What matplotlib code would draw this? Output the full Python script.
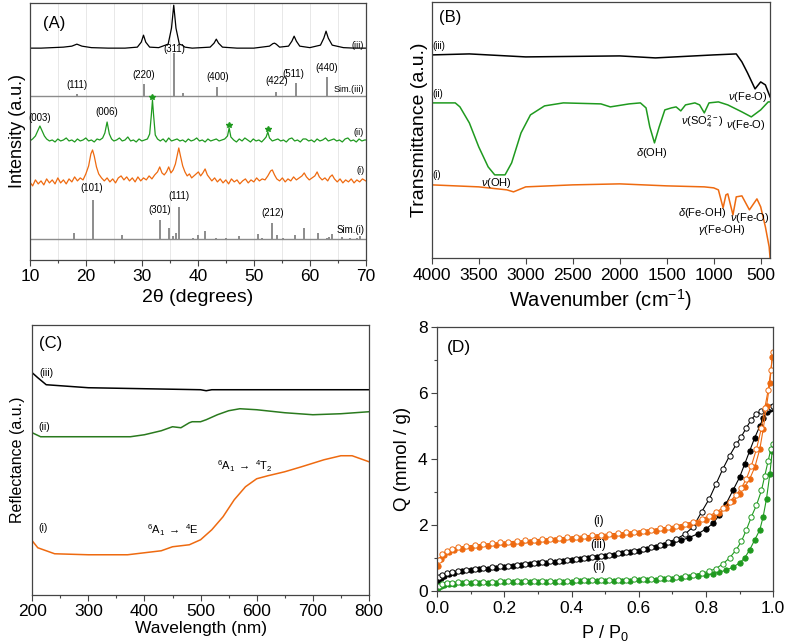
import matplotlib
matplotlib.use("Agg")
import matplotlib.pyplot as plt
from matplotlib.ticker import MultipleLocator

plt.rcParams['font.family'] = ['Liberation Sans', 'DejaVu Sans']
plt.rcParams['mathtext.fontset'] = 'custom'
plt.rcParams['mathtext.rm'] = 'Liberation Sans'
plt.rcParams['mathtext.it'] = 'Liberation Sans:italic'
plt.rcParams['axes.edgecolor'] = '#444444'
plt.rcParams['xtick.color'] = '#444444'
plt.rcParams['ytick.color'] = '#444444'
plt.rcParams['xtick.labelcolor'] = 'black'
plt.rcParams['ytick.labelcolor'] = 'black'

ORANGE = '#ee6a10'
GREEN = '#1f9a1f'
DKGREEN = '#2a7a1e'
GRAY = '#8c8c8c'

# ---------------- (A) XRD data (intensity in a.u.) ----------------
xrd_iii_x = [10, 12, 14, 16, 17.5, 18.4, 19.3, 21, 24, 27, 29.2, 29.9, 30.3, 30.7, 31.4, 33, 34.7,
             35.3, 35.7, 36.1, 36.7, 37.2, 37.7, 39, 42.2, 42.9, 43.3, 43.7, 44.4, 47, 50, 52.8,
             53.4, 53.7, 54.0, 54.6, 56.2, 56.8, 57.2, 57.6, 58.2, 60, 61.9, 62.5, 62.9, 63.3, 64,
             66, 68, 70]
xrd_iii_y = [212, 212, 212.5, 213, 214, 216, 214, 212.5, 212, 212, 213, 218, 225, 218, 213, 212.5,
             216, 232, 255, 232, 216, 215, 213, 212, 213, 217, 221, 217, 213, 212, 212, 214, 216.5,
             217, 216, 213, 214, 219, 224, 219, 214, 212.5, 215, 222, 229, 222, 215, 212.5, 212, 212]

sim_iii_base = 164
sim_iii_pos = [18.4, 30.4, 35.8, 37.4, 43.5, 53.9, 57.5, 63.1]
sim_iii_top = [166, 176, 207, 167, 173, 168, 177, 183]
sim_iii_hkl = ['(111)', '(220)', '(311)', '(400)', '(422)', '(511)', '(440)']
sim_iii_hkl_x = [18.5, 30.3, 35.8, 43.5, 54.0, 57.1, 63.0]
sim_iii_hkl_y = [170, 180, 206, 178, 174, 181, 187]

xrd_ii_x = [10, 10.5, 11.0, 11.4, 11.8, 12.2, 12.6, 13.0, 13.5, 14, 14.5, 15, 15.5, 16, 16.5, 17,
            17.5, 18, 18.5, 19, 19.5, 20, 20.5, 21, 21.5, 22, 22.5, 23.0, 23.4, 23.8, 24.2, 24.6,
            25, 25.5, 26, 26.5, 27, 27.5, 28, 28.5, 29, 29.5, 30, 30.5, 31.0, 31.4, 31.7, 31.9,
            32.1, 32.4, 32.8, 33.3, 33.8, 34.3, 34.8, 35.3, 35.8, 36.3, 36.8, 37.3, 37.8, 38.3,
            38.8, 39.3, 39.8, 40.3, 40.8, 41.3, 41.8, 42.3, 42.8, 43.3, 43.8, 44.3, 44.8, 45.3,
            45.6, 45.9, 46.4, 46.9, 47.4, 47.9, 48.4, 48.9, 49.4, 49.9, 50.4, 50.9, 51.4, 51.9,
            52.2, 52.5, 52.8, 53.3, 53.8, 54.3, 54.8, 55.3, 55.8, 56.3, 56.8, 57.3, 57.8, 58.3,
            58.8, 59.3, 59.8, 60.3, 60.8, 61.3, 61.8, 62.3, 62.8, 63.3, 63.8, 64.3, 64.8, 65.3,
            65.8, 66.3, 66.8, 67.3, 67.8, 68.3, 68.8, 69.3, 69.8, 70]
xrd_ii_y = [119, 121, 124, 129, 134, 129, 124, 121, 119, 120, 118, 121, 119, 120, 122, 119, 120,
            118, 121, 119, 120, 122, 119, 120, 118, 121, 120, 122, 127, 138, 126, 121, 119, 120,
            122, 119, 120, 123, 119, 120, 118, 121, 119, 120, 121, 126, 145, 160, 145, 125, 121,
            119, 121, 118, 122, 119, 120, 121, 119, 120, 118, 121, 119, 120, 122, 119, 120, 118,
            121, 119, 120, 121, 119, 120, 121, 124, 132, 123, 120, 118, 121, 119, 122, 120, 118,
            121, 119, 120, 118, 121, 123, 128, 122, 119, 120, 121, 119, 120, 118, 121, 122, 119,
            120, 118, 121, 121, 119, 120, 118, 121, 119, 120, 122, 119, 120, 121, 119, 120, 118,
            121, 122, 119, 120, 118, 121, 119, 120, 120]
star_x = [31.9, 45.6, 52.5]
star_y = [163, 135, 131]

xrd_i_x = [10, 10.5, 11, 11.5, 12, 12.5, 13, 13.5, 14, 14.5, 15, 15.5, 16, 16.5, 17, 17.5, 18,
           18.5, 19, 19.5, 20, 20.5, 20.9, 21.2, 21.5, 21.9, 22.3, 22.8, 23.3, 23.8, 24.3, 24.8,
           25.3, 25.8, 26.3, 26.8, 27.3, 27.8, 28.3, 28.8, 29.3, 29.8, 30.3, 30.8, 31.3, 31.8,
           32.3, 32.8, 33.2, 33.6, 34.0, 34.4, 34.8, 35.2, 35.6, 36.0, 36.3, 36.6, 36.9, 37.3,
           37.7, 38.1, 38.5, 38.9, 39.3, 39.7, 40.1, 40.5, 40.9, 41.3, 41.7, 42.1, 42.5, 43, 43.5,
           44, 44.5, 45, 45.5, 46, 46.5, 47, 47.5, 48, 48.5, 49, 49.5, 50, 50.5, 51, 51.5, 52,
           52.5, 53.0, 53.3, 53.7, 54.1, 54.6, 55.1, 55.6, 56.1, 56.6, 57.1, 57.6, 58.1, 58.6,
           59.0, 59.4, 59.9, 60.4, 60.9, 61.3, 61.7, 62.2, 62.7, 63.2, 63.6, 64.0, 64.4, 64.9,
           65.4, 65.9, 66.4, 66.9, 67.4, 67.9, 68.4, 68.9, 69.4, 70]
xrd_i_y = [78, 74, 80, 76, 79, 75, 81, 77, 80, 76, 82, 77, 80, 76, 81, 78, 83, 79, 82, 80, 86, 94,
           106, 110, 104, 93, 86, 82, 79, 82, 78, 81, 77, 82, 84, 80, 83, 79, 82, 78, 83, 79, 82,
           80, 84, 81, 85, 88, 93, 87, 85, 88, 93, 87, 90, 96, 104, 112, 104, 94, 88, 84, 86, 82,
           84, 86, 88, 84, 87, 91, 85, 82, 79, 82, 78, 81, 77, 80, 76, 81, 78, 80, 76, 79, 81,
           77, 80, 78, 82, 79, 81, 80, 84, 89, 90, 85, 81, 79, 82, 78, 81, 79, 83, 80, 82, 84,
           87, 83, 80, 82, 84, 88, 83, 80, 82, 79, 83, 85, 81, 78, 81, 77, 80, 78, 81, 77, 80,
           78, 81, 79]

sim_i_base = 21
sim_i_pos = [17.8, 21.3, 26.4, 33.2, 34.8, 35.6, 36.1, 36.7, 39.2, 40.0, 41.3, 43.3, 45.1, 47.3,
             50.7, 51.5, 53.3, 54.2, 55.3, 57.4, 59.0, 61.4, 63.0, 63.5, 64.0, 65.8, 67.2, 68.5, 69.0]
sim_i_top = [27, 60, 25, 40, 32, 24, 27, 53, 22, 25, 29, 22, 22, 24, 26, 22, 37, 25, 22, 25, 32,
             27, 22, 23, 26, 23, 22, 22, 24]
sim_i_hkl = ['(101)', '(301)', '(111)', '(212)']
sim_i_hkl_x = [21.0, 33.2, 36.7, 53.3]
sim_i_hkl_y = [67, 45, 59, 42]

# ---------------- (B) FTIR data (transmittance in a.u.) ----------------
ir_iii_x = [4000, 3600, 3000, 2000, 1620, 1000, 760, 700, 640, 560, 500, 450, 400]
ir_iii_y = [203, 204, 201, 202, 200, 203, 204, 196, 185, 169, 176, 173, 161]
ir_ii_x = [4000, 3750, 3700, 3600, 3500, 3400, 3330, 3220, 3150, 3050, 2950, 2800, 2600, 2200,
           2100, 1900, 1780, 1720, 1680, 1630, 1580, 1520, 1450, 1400, 1350, 1300, 1200, 1150,
           1100, 1050, 950, 850, 700, 600, 500, 420, 400]
ir_ii_y = [155, 155, 151, 135, 111, 91, 83, 83, 95, 125, 143, 152, 155, 154, 151, 154, 155, 150,
           131, 115, 131, 148, 150, 151, 147, 153, 155, 153, 145, 155, 156, 153, 146, 141, 148,
           156, 156]
ir_i_x = [4000, 3500, 3200, 3130, 3000, 2500, 2000, 1500, 1100, 1000, 950, 900, 870, 850, 795,
          760, 700, 620, 540, 500, 450, 410, 400]
ir_i_y = [73, 71, 68, 66, 71, 73, 74, 72, 71, 70, 68, 50, 63, 64, 43, 61, 62, 48, 59, 51, 31, 11, 0]

# ---------------- (C) UV-vis DRS data ----------------
uv_iii_x = [200, 210, 225, 250, 300, 400, 500, 510, 520, 600, 800]
uv_iii_y = [222, 217, 210, 209, 207, 206, 205, 204, 205, 205, 205]
uv_ii_x = [200, 215, 300, 375, 400, 430, 450, 465, 480, 485, 500, 510, 530, 550, 570, 600, 650,
           700, 750, 800]
uv_ii_y = [162, 158, 158, 158, 160, 164, 168, 167, 172, 173, 173, 175, 180, 184, 186, 185, 182,
           180, 181, 183]
uv_i_x = [200, 210, 240, 300, 370, 400, 430, 450, 480, 500, 520, 540, 560, 580, 600, 620, 650,
          680, 720, 750, 770, 800]
uv_i_y = [54, 47, 41, 40, 40, 42, 44, 48, 50, 55, 65, 78, 95, 108, 116, 119, 123, 128, 135, 139,
          139, 133]

# ---------------- (D) N2 isotherms ----------------
p_ads = [0.003, 0.01, 0.02, 0.035, 0.05, 0.075, 0.1, 0.125, 0.15, 0.175, 0.2, 0.225, 0.25, 0.275,
         0.3, 0.325, 0.35, 0.375, 0.4, 0.425, 0.45, 0.475, 0.5, 0.525, 0.55, 0.575, 0.6, 0.625,
         0.65, 0.675, 0.7, 0.725, 0.75, 0.775, 0.8, 0.82, 0.84, 0.86, 0.88, 0.9, 0.915, 0.93,
         0.945, 0.96, 0.97, 0.98, 0.99, 0.997]
p_des = [0.005, 0.015, 0.028, 0.045, 0.062, 0.087, 0.112, 0.137, 0.162, 0.187, 0.212, 0.237,
         0.262, 0.287, 0.312, 0.337, 0.362, 0.387, 0.412, 0.437, 0.462, 0.487, 0.512, 0.537,
         0.562, 0.587, 0.612, 0.637, 0.662, 0.687, 0.712, 0.737, 0.762, 0.787, 0.81, 0.83, 0.85,
         0.87, 0.89, 0.905, 0.92, 0.935, 0.95, 0.965, 0.975, 0.985, 0.993, 0.999]
q_i_ads = [0.75, 0.98, 1.1, 1.18, 1.23, 1.28, 1.31, 1.34, 1.36, 1.39, 1.41, 1.43, 1.45, 1.47,
           1.49, 1.51, 1.53, 1.55, 1.57, 1.59, 1.61, 1.63, 1.65, 1.67, 1.7, 1.72, 1.75, 1.78,
           1.81, 1.85, 1.89, 1.94, 2.0, 2.07, 2.16, 2.25, 2.37, 2.52, 2.72, 2.95, 3.15, 3.4,
           3.75, 4.3, 4.9, 5.6, 6.3, 7.1]
q_i_des = [0.95, 1.12, 1.22, 1.28, 1.32, 1.36, 1.39, 1.42, 1.44, 1.47, 1.49, 1.51, 1.53, 1.55,
           1.57, 1.59, 1.61, 1.63, 1.65, 1.67, 1.69, 1.71, 1.73, 1.75, 1.78, 1.8, 1.83, 1.86,
           1.9, 1.94, 1.98, 2.04, 2.1, 2.18, 2.28, 2.39, 2.52, 2.7, 2.92, 3.12, 3.4, 3.8, 4.3,
           4.95, 5.55, 6.1, 6.7, 7.25]
q_iii_ads = [0.3, 0.4, 0.46, 0.51, 0.55, 0.59, 0.62, 0.65, 0.68, 0.71, 0.74, 0.76, 0.79, 0.81,
             0.84, 0.86, 0.89, 0.91, 0.94, 0.97, 1.0, 1.03, 1.06, 1.1, 1.14, 1.18, 1.22, 1.27,
             1.32, 1.38, 1.45, 1.53, 1.62, 1.73, 1.88, 2.05, 2.3, 2.65, 3.05, 3.45, 3.85, 4.25,
             4.65, 5.0, 5.25, 5.42, 5.52, 5.55]
q_iii_des = [0.42, 0.48, 0.53, 0.57, 0.6, 0.63, 0.66, 0.69, 0.72, 0.75, 0.77, 0.8, 0.82, 0.85,
             0.87, 0.9, 0.92, 0.95, 0.98, 1.01, 1.04, 1.07, 1.1, 1.14, 1.18, 1.22, 1.27, 1.33,
             1.4, 1.48, 1.58, 1.72, 1.95, 2.4, 2.8, 3.25, 3.7, 4.1, 4.45, 4.68, 4.95, 5.2, 5.38,
             5.45, 5.5, 5.55, 5.58, 5.6]
q_ii_ads = [0.08, 0.15, 0.19, 0.21, 0.22, 0.23, 0.24, 0.24, 0.25, 0.25, 0.26, 0.26, 0.26, 0.27,
            0.27, 0.27, 0.28, 0.28, 0.28, 0.29, 0.29, 0.29, 0.3, 0.3, 0.31, 0.31, 0.32, 0.33,
            0.34, 0.35, 0.37, 0.39, 0.42, 0.45, 0.48, 0.52, 0.57, 0.63, 0.72, 0.85, 1.0, 1.25,
            1.55, 1.85, 2.25, 2.8, 3.55, 4.25]
q_ii_des = [0.15, 0.2, 0.23, 0.25, 0.26, 0.27, 0.27, 0.28, 0.28, 0.29, 0.29, 0.29, 0.3, 0.3, 0.3,
            0.31, 0.31, 0.31, 0.32, 0.32, 0.32, 0.33, 0.33, 0.34, 0.34, 0.35, 0.36, 0.37, 0.38,
            0.4, 0.42, 0.45, 0.49, 0.54, 0.6, 0.68, 0.82, 1.0, 1.25, 1.5, 1.85, 2.25, 2.6, 3.05,
            3.5, 3.95, 4.3, 4.45]

fig = plt.figure(figsize=(7.85, 6.43), dpi=100)
axA = fig.add_axes([0.038, 0.596, 0.428, 0.399])
axB = fig.add_axes([0.550, 0.599, 0.431, 0.398])
axC = fig.add_axes([0.041, 0.075, 0.429, 0.420])
axD = fig.add_axes([0.557, 0.081, 0.428, 0.410])

tick_fs = 12.5
small = 7

# (A)
for xg in range(15, 70, 5):
    axA.axvline(xg, color='#e4e4e4', lw=0.6, zorder=0)
axA.plot(xrd_iii_x, xrd_iii_y, color='black', lw=0.9)
axA.axhline(sim_iii_base, color=GRAY, lw=1.0)
axA.vlines(sim_iii_pos, sim_iii_base, sim_iii_top, color=GRAY, lw=1.4)
for lab, x, y in zip(sim_iii_hkl, sim_iii_hkl_x, sim_iii_hkl_y):
    axA.text(x, y, lab, fontsize=small, ha='center', va='bottom')
axA.plot(xrd_ii_x, xrd_ii_y, color=GREEN, lw=0.9)
axA.plot(star_x, star_y, '*', color=GREEN, ms=4)
axA.text(11.8, 137, '(003)', fontsize=small, ha='center', va='bottom')
axA.text(23.7, 143, '(006)', fontsize=small, ha='center', va='bottom')
axA.plot(xrd_i_x, xrd_i_y, color=ORANGE, lw=0.9)
axA.axhline(sim_i_base, color=GRAY, lw=1.0)
axA.vlines(sim_i_pos, sim_i_base, sim_i_top, color=GRAY, lw=1.4)
for lab, x, y in zip(sim_i_hkl, sim_i_hkl_x, sim_i_hkl_y):
    axA.text(x, y, lab, fontsize=small, ha='center', va='bottom')
axA.text(69.7, 215, '(iii)', fontsize=small - 0.5, ha='right', va='center')
axA.text(69.7, 166, 'Sim.(iii)', fontsize=small - 0.5, ha='right', va='bottom')
axA.text(69.7, 127, '(ii)', fontsize=small - 0.5, ha='right', va='center')
axA.text(69.7, 89, '(i)', fontsize=small - 0.5, ha='right', va='center')
axA.text(69.7, 30, 'Sim.(i)', fontsize=small, ha='right', va='center')
axA.text(0.04, 0.95, '(A)', transform=axA.transAxes, fontsize=12, va='top')
axA.set_xlim(10, 70)
axA.set_ylim(0, 257)
axA.set_yticks([])
axA.xaxis.set_major_locator(MultipleLocator(10))
axA.xaxis.set_minor_locator(MultipleLocator(5))
axA.set_xlabel('2θ (degrees)', fontsize=14, labelpad=3)
axA.set_ylabel('Intensity (a.u.)', fontsize=13, labelpad=3)

# (B)
lbl = small + 1
axB.plot(ir_iii_x, ir_iii_y, color='black', lw=1.1)
axB.plot(ir_ii_x, ir_ii_y, color=GREEN, lw=1.1)
axB.plot(ir_i_x, ir_i_y, color=ORANGE, lw=1.1)
axB.text(3990, 209, '(iii)', fontsize=small)
axB.text(3990, 161, '(ii)', fontsize=small)
axB.text(3990, 80, '(i)', fontsize=small)
axB.text(3308, 75, r'$\nu$(OH)', fontsize=lbl, ha='center', va='center')
axB.text(1657, 105, r'$\delta$(OH)', fontsize=lbl, ha='center', va='center')
axB.text(1120, 136, r'$\nu$(SO$_4^{2-}$)', fontsize=lbl, ha='center', va='center')
axB.text(660, 133, r'$\nu$(Fe-O)', fontsize=lbl, ha='center', va='center')
axB.text(635, 161, r'$\nu$(Fe-O)', fontsize=lbl, ha='center', va='center')
axB.text(1125, 45, r'$\delta$(Fe-OH)', fontsize=lbl, ha='center', va='center')
axB.text(912, 28, r'$\gamma$(Fe-OH)', fontsize=lbl, ha='center', va='center')
axB.text(613, 40, r'$\nu$(Fe-O)', fontsize=lbl, ha='center', va='center')
axB.text(0.02, 0.97, '(B)', transform=axB.transAxes, fontsize=12, va='top')
axB.set_xlim(4000, 400)
axB.set_ylim(0, 256)
axB.set_yticks([])
axB.set_xticks([4000, 3500, 3000, 2500, 2000, 1500, 1000, 500])
axB.set_xlabel('Wavenumber (cm$^{-1}$)', fontsize=14.5, labelpad=3)
axB.set_ylabel('Transmittance (a.u.)', fontsize=14, labelpad=3)

# (C)
axC.plot(uv_iii_x, uv_iii_y, color='black', lw=1.1)
axC.plot(uv_ii_x, uv_ii_y, color=DKGREEN, lw=1.1)
axC.plot(uv_i_x, uv_i_y, color=ORANGE, lw=1.1)
axC.text(213, 222, '(iii)', fontsize=small + 0.5, va='center')
axC.text(211, 168, '(ii)', fontsize=small + 0.5, va='center')
axC.text(211, 67, '(i)', fontsize=small + 0.5, va='center')
axC.text(451, 65, r'$^{6}$A$_{1}$ $\rightarrow$ $^{4}$E', fontsize=small + 1, ha='center', va='center')
axC.text(579, 129, r'$^{6}$A$_{1}$ $\rightarrow$ $^{4}$T$_{2}$', fontsize=small + 1, ha='center', va='center')
axC.text(0.02, 0.96, '(C)', transform=axC.transAxes, fontsize=12, va='top')
axC.set_xlim(200, 800)
axC.set_ylim(0, 270)
axC.set_yticks([])
axC.xaxis.set_major_locator(MultipleLocator(100))
axC.xaxis.set_minor_locator(MultipleLocator(50))
axC.set_xlabel('Wavelength (nm)', fontsize=12.5, labelpad=1)
axC.set_ylabel('Reflectance (a.u.)', fontsize=11.5, labelpad=5)

# (D)
ms = 3.8
axD.plot(p_ads, q_iii_ads, '-o', color='black', lw=0.8, ms=ms, mfc='black', mew=0.7)
axD.plot(p_des, q_iii_des, '-o', color='black', lw=0.8, ms=ms, mfc='white', mew=0.7)
axD.plot(p_ads, q_ii_ads, '-o', color=GREEN, lw=0.8, ms=ms, mfc=GREEN, mew=0.7)
axD.plot(p_des, q_ii_des, '-o', color=GREEN, lw=0.8, ms=ms, mfc='white', mew=0.7)
axD.plot(p_ads, q_i_ads, '-o', color=ORANGE, lw=0.8, ms=ms, mfc=ORANGE, mew=0.7)
axD.plot(p_des, q_i_des, '-o', color=ORANGE, lw=0.8, ms=ms, mfc='white', mew=0.7)
axD.text(0.48, 2.13, '(i)', fontsize=small + 1.5, ha='center', va='center')
axD.text(0.48, 1.39, '(iii)', fontsize=small + 1.5, ha='center', va='center')
axD.text(0.48, 0.74, '(ii)', fontsize=small + 1.5, ha='center', va='center')
axD.text(0.03, 0.95, '(D)', transform=axD.transAxes, fontsize=12.5, va='top')
axD.set_xlim(0, 1.0)
axD.set_ylim(0, 8)
axD.xaxis.set_major_locator(MultipleLocator(0.2))
axD.xaxis.set_minor_locator(MultipleLocator(0.1))
axD.yaxis.set_major_locator(MultipleLocator(2))
axD.yaxis.set_minor_locator(MultipleLocator(1))
axD.set_xlabel('P / P$_0$', fontsize=13, labelpad=5)
axD.set_ylabel('Q (mmol / g)', fontsize=13.5, labelpad=5)

for ax in (axA, axB, axC, axD):
    ax.tick_params(which='major', direction='out', length=4, width=0.8, labelsize=tick_fs, pad=3)
    ax.tick_params(which='minor', direction='out', length=2.5, width=0.8)
    for s in ax.spines.values():
        s.set_linewidth(0.9)

fig.savefig('out.png', dpi=100)
